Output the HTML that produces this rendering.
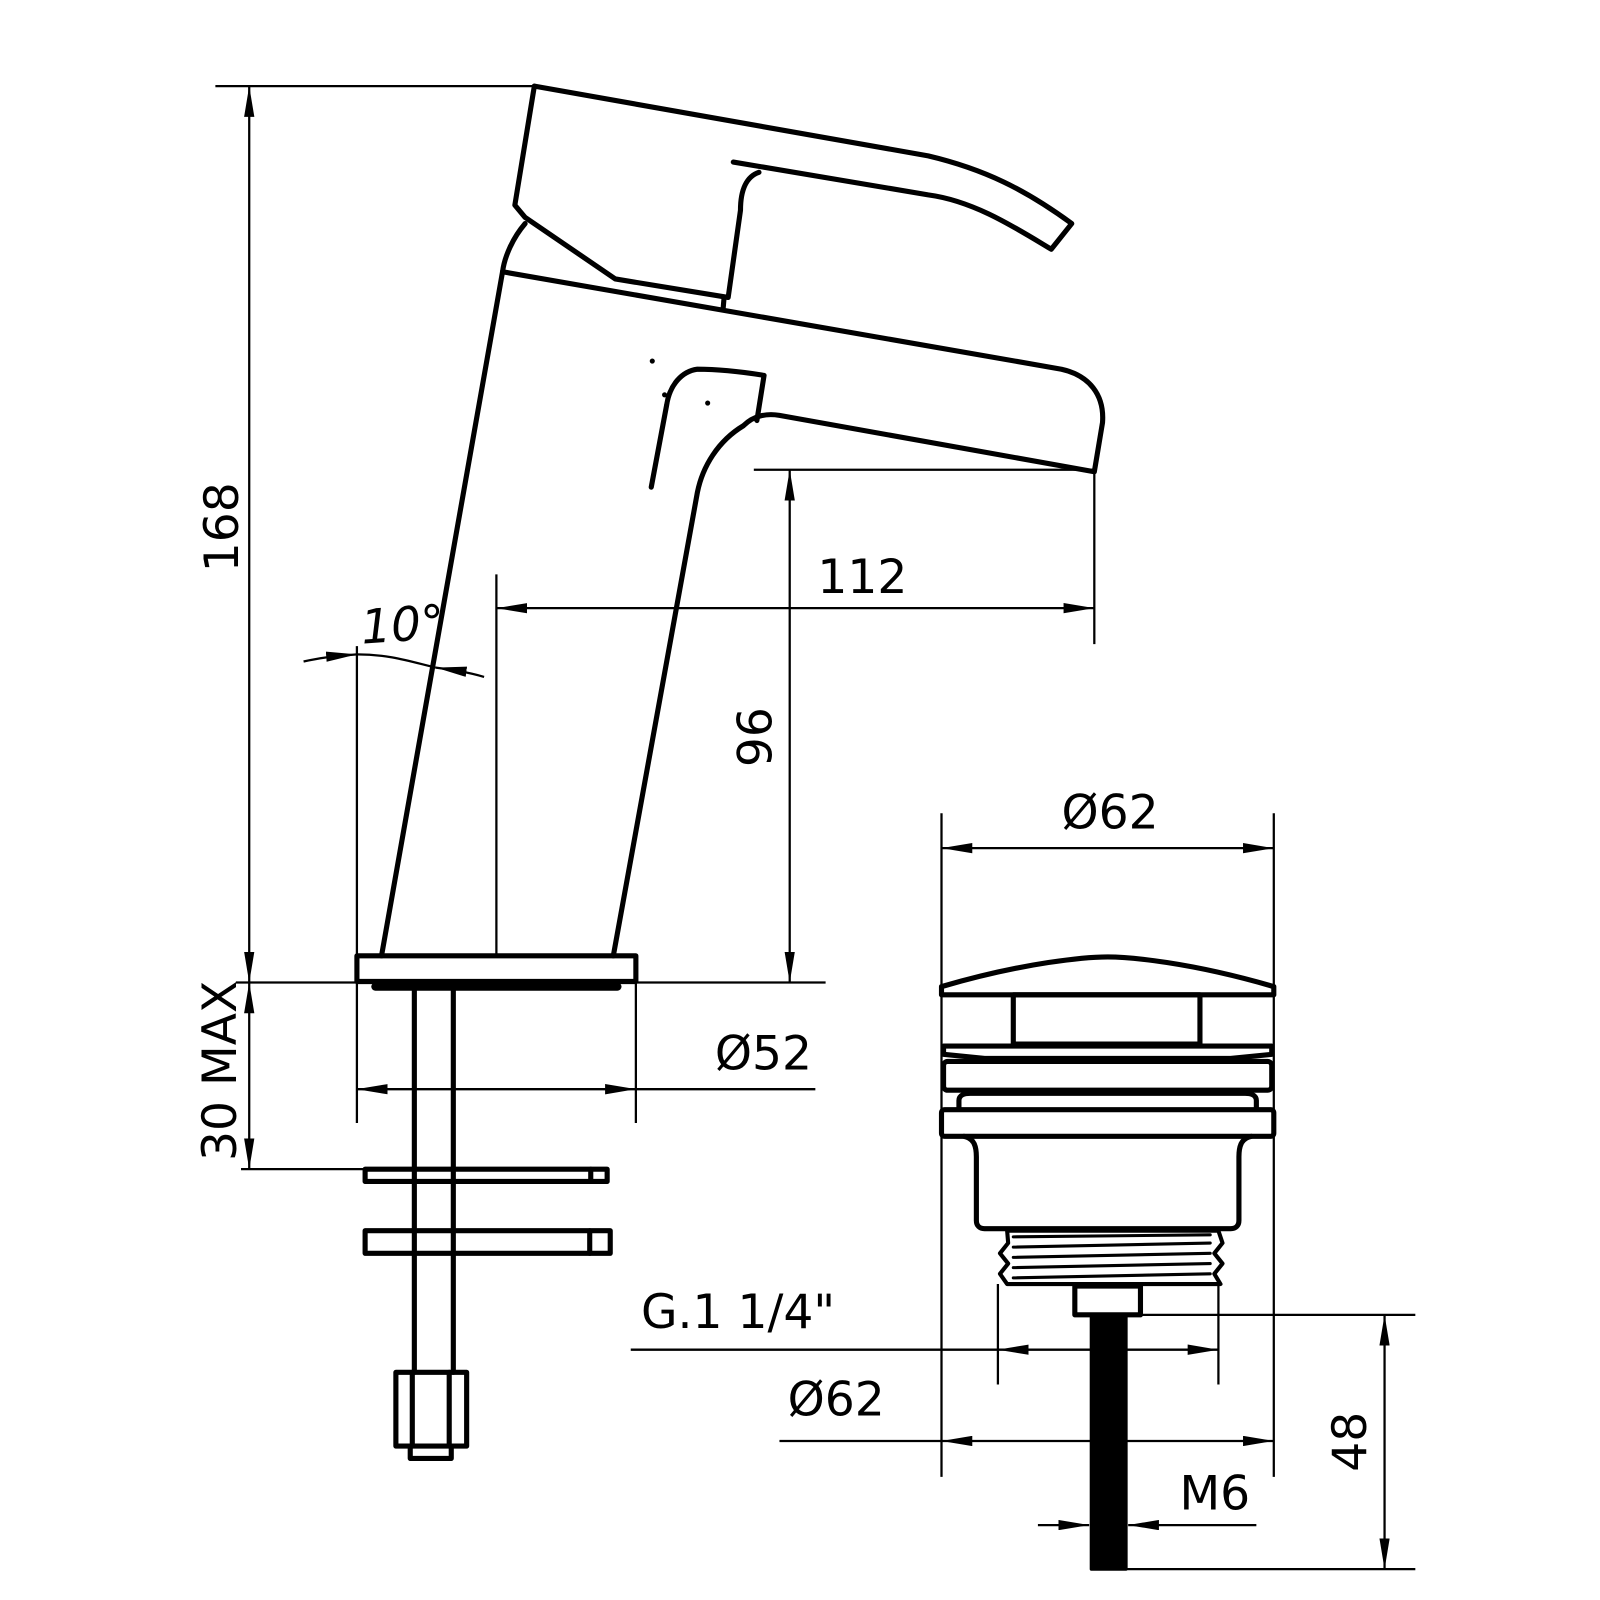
<!DOCTYPE html>
<html><head><meta charset="utf-8"><style>html,body{margin:0;padding:0;background:#fff}svg{display:block}text{font-family:"DejaVu Sans","Liberation Sans",sans-serif;font-size:46px;fill:#000}</style></head><body>
<svg width="1600" height="1600" viewBox="0 0 1600 1600" xmlns="http://www.w3.org/2000/svg">
<defs>
<marker id="a" viewBox="0 0 30 10" refX="30" refY="5" markerWidth="30" markerHeight="10" markerUnits="userSpaceOnUse" orient="auto-start-reverse"><path d="M0,0 L30,5 L0,10 z" fill="#000"/></marker>
</defs>
<g transform="scale(1.0256)">
<g fill="none" stroke="#000" stroke-width="5" stroke-linejoin="round" stroke-linecap="round">
<path d="M521,84 L905,152 C960,165 1000,185 1045,218 L1025,243 C990,222 950,196 905,190 L715,158"/>
<path d="M740,168 C728,172 722,185 722,205 L710,290 L600,272 L512,212 L502,200 L521,84"/>
<path d="M706,290 L705,302"/>
<path d="M512,218 C500,232 492,250 490,265"/>
<path d="M490,265 L1035,360 C1062,366 1077,385 1075,412 L1067,460 L760,405 C748,403 735,405 725,415 C700,430 685,455 680,480 L598,932"/>
<path d="M490,265 L372,932"/>
<path d="M635,475 L650,395 C653,375 665,362 680,360 C700,360 720,362 745,366 L738,410"/>
<rect x="348" y="932" width="272" height="25"/>
<path d="M366,962 L602,962" stroke-width="8"/>
<path d="M404,964 L404,1338 M442,964 L442,1338"/>
<rect x="356" y="1140" width="236" height="12"/>
<path d="M576,1140 L576,1152"/>
<rect x="356" y="1200" width="239" height="22"/>
<path d="M575,1200 L575,1222"/>
<rect x="386" y="1338" width="69" height="72"/>
<path d="M402,1338 L402,1410 M438,1338 L438,1410"/>
<path d="M400,1410 L400,1422 L440,1422 L440,1410"/>
<path d="M918,962 C1000,938 1060,933 1080,933 C1100,933 1160,938 1242,962 L1242,970 L918,970 z"/>
<rect x="988" y="970" width="182" height="48"/>
<path d="M920,1020 L1240,1020 L1240,1028 L1200,1032 L960,1032 L920,1028 z"/>
<rect x="920" y="1035" width="320" height="28" rx="4"/>
<path d="M935,1080 L935,1073 C935,1068 940,1066 946,1066 L1214,1066 C1220,1066 1225,1068 1225,1073 L1225,1080"/>
<rect x="918" y="1082" width="324" height="26" rx="3"/>
<path d="M940,1108 C950,1110 952,1118 952,1128 L952,1190 C952,1195 955,1198 960,1198 L1200,1198 C1205,1198 1208,1195 1208,1190 L1208,1128 C1208,1118 1210,1110 1220,1108"/>
<path d="M982,1200 L1188,1200 L1192,1212 L1184,1222 L1192,1232 L1184,1242 L1190,1252 L982,1252 L975,1242 L983,1232 L975,1222 L983,1212 z" stroke-width="4"/>
<path d="M988,1206 L1180,1204 M988,1216 L1180,1212 M988,1226 L1180,1222 M988,1236 L1180,1232 M988,1246 L1180,1242" stroke-width="3"/>
<rect x="1048" y="1254" width="64" height="28"/>
<rect x="1064" y="1282" width="34" height="248" fill="#000" stroke-width="3"/>
</g>
<g fill="none" stroke="#000" stroke-width="2.2">
<path d="M210,84 L521,84"/>
<path d="M243,84 L243,958" marker-start="url(#a)" marker-end="url(#a)"/>
<path d="M230,958 L805,958"/>
<path d="M243,958 L243,1140" marker-start="url(#a)" marker-end="url(#a)"/>
<path d="M235,1140 L356,1140"/>
<path d="M348,630 L348,1095"/>
<path d="M484,560 L484,932"/>
<path d="M296,645 C310,642 322,640 348,638" marker-end="url(#a)"/>
<path d="M472,660 C455,655 440,653 425,651" marker-end="url(#a)"/>
<path d="M348,638 C380,638 400,645 425,651"/>
<path d="M484,593 L1067,593" marker-start="url(#a)" marker-end="url(#a)"/>
<path d="M1067,460 L1067,628"/>
<path d="M735,458 L1067,458"/>
<path d="M770,458 L770,958" marker-start="url(#a)" marker-end="url(#a)"/>
<path d="M620,932 L620,1095"/>
<path d="M348,1062 L620,1062" marker-start="url(#a)" marker-end="url(#a)"/>
<path d="M620,1062 L795,1062"/>
<path d="M918,793 L918,1440 M1242,793 L1242,1440"/>
<path d="M918,827 L1242,827" marker-start="url(#a)" marker-end="url(#a)"/>
<path d="M973,1252 L973,1350 M1188,1252 L1188,1350"/>
<path d="M973,1316 L1188,1316" marker-start="url(#a)" marker-end="url(#a)"/>
<path d="M615,1316 L973,1316"/>
<path d="M760,1405 L918,1405"/>
<path d="M918,1405 L1242,1405" marker-start="url(#a)" marker-end="url(#a)"/>
<path d="M1112,1282 L1380,1282 M1098,1530 L1380,1530"/>
<path d="M1350,1282 L1350,1530" marker-start="url(#a)" marker-end="url(#a)"/>
<path d="M1012,1487 L1062,1487" marker-end="url(#a)"/>
<path d="M1225,1487 L1100,1487" marker-end="url(#a)"/>
</g>
<circle cx="636" cy="352" r="2.5"/><circle cx="648" cy="385" r="2.5"/><circle cx="690" cy="393" r="2.5"/>
<text x="0" y="0" transform="translate(232,558) rotate(-90)">168</text>
<text x="0" y="0" transform="translate(230,1132) rotate(-90)">30 MAX</text>
<text x="0" y="0" transform="translate(752,748) rotate(-90)">96</text>
<text x="0" y="0" transform="translate(1332,1435) rotate(-90)">48</text>
<text x="352" y="625" font-style="italic" transform="rotate(-4 390 610)">10°</text>
<text x="797" y="578">112</text>
<text x="697" y="1043">Ø52</text>
<text x="1035" y="808">Ø62</text>
<text x="625" y="1295">G.1 1/4"</text>
<text x="768" y="1380">Ø62</text>
<text x="1150" y="1472">M6</text>
</g>
</svg>
</body></html>
